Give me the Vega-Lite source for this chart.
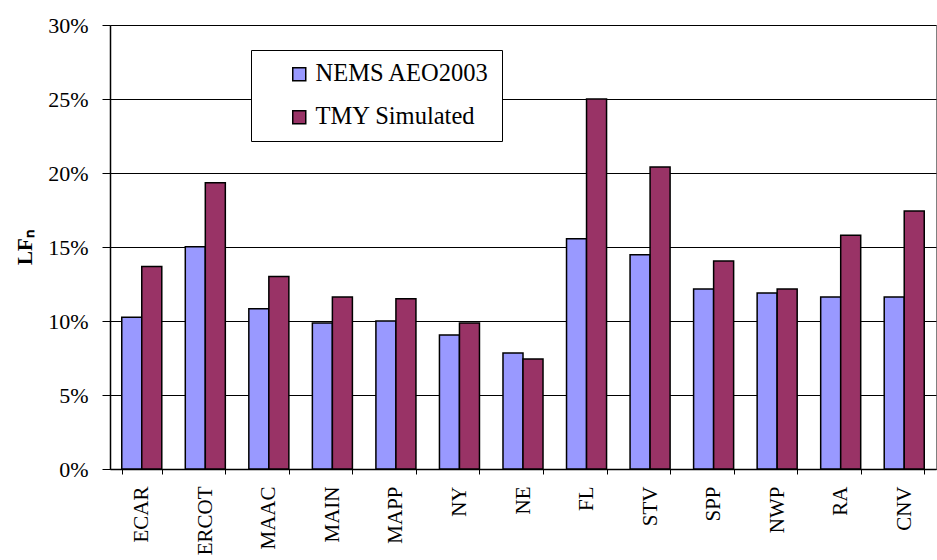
{
  "$schema": "https://vega.github.io/schema/vega-lite/v6.json",
  "width": 826,
  "height": 444,
  "autosize": {"type": "none"},
  "padding": {"left": 110, "top": 25, "right": 1, "bottom": 91},
  "background": "white",
  "config": {
    "view": {"stroke": "#808080", "strokeWidth": 1},
    "font": "Liberation Serif"
  },
  "data": {
    "values": [
      {"region": "ECAR", "series": "NEMS AEO2003", "value": 0.1026},
      {"region": "ECAR", "series": "TMY Simulated", "value": 0.1368},
      {"region": "ERCOT", "series": "NEMS AEO2003", "value": 0.1501},
      {"region": "ERCOT", "series": "TMY Simulated", "value": 0.1934},
      {"region": "MAAC", "series": "NEMS AEO2003", "value": 0.1082},
      {"region": "MAAC", "series": "TMY Simulated", "value": 0.1300},
      {"region": "MAIN", "series": "NEMS AEO2003", "value": 0.0987},
      {"region": "MAIN", "series": "TMY Simulated", "value": 0.1163},
      {"region": "MAPP", "series": "NEMS AEO2003", "value": 0.1000},
      {"region": "MAPP", "series": "TMY Simulated", "value": 0.1150},
      {"region": "NY", "series": "NEMS AEO2003", "value": 0.0906},
      {"region": "NY", "series": "TMY Simulated", "value": 0.0987},
      {"region": "NE", "series": "NEMS AEO2003", "value": 0.0784},
      {"region": "NE", "series": "TMY Simulated", "value": 0.0744},
      {"region": "FL", "series": "NEMS AEO2003", "value": 0.1555},
      {"region": "FL", "series": "TMY Simulated", "value": 0.2500},
      {"region": "STV", "series": "NEMS AEO2003", "value": 0.1447},
      {"region": "STV", "series": "TMY Simulated", "value": 0.2040},
      {"region": "SPP", "series": "NEMS AEO2003", "value": 0.1217},
      {"region": "SPP", "series": "TMY Simulated", "value": 0.1406},
      {"region": "NWP", "series": "NEMS AEO2003", "value": 0.1190},
      {"region": "NWP", "series": "TMY Simulated", "value": 0.1217},
      {"region": "RA", "series": "NEMS AEO2003", "value": 0.1163},
      {"region": "RA", "series": "TMY Simulated", "value": 0.1580},
      {"region": "CNV", "series": "NEMS AEO2003", "value": 0.1163},
      {"region": "CNV", "series": "TMY Simulated", "value": 0.1744}
    ]
  },
  "mark": {"type": "bar", "stroke": "black", "strokeWidth": 1.5},
  "encoding": {
    "x": {
      "field": "region",
      "type": "nominal",
      "sort": null,
      "scale": {"paddingInner": 0.37, "paddingOuter": 0.185},
      "axis": {
        "title": null,
        "labelAngle": -90,
        "labelFont": "Liberation Serif",
        "labelFontSize": 21,
        "labelColor": "black",
        "labelPadding": 12,
        "tickBand": "extent",
        "tickSize": 5,
        "tickColor": "black",
        "domainColor": "black",
        "domainWidth": 1.5,
        "grid": false
      }
    },
    "xOffset": {"field": "series", "type": "nominal", "scale": {"paddingInner": 0, "paddingOuter": 0}},
    "y": {
      "field": "value",
      "type": "quantitative",
      "scale": {"domain": [0, 0.3], "nice": false},
      "axis": {
        "values": [0, 0.05, 0.1, 0.15, 0.2, 0.25, 0.3],
        "format": ".0%",
        "title": "LFₙ",
        "titleFont": "Liberation Serif",
        "titleFontSize": 21,
        "titleFontWeight": "bold",
        "titleColor": "black",
        "titlePadding": 12,
        "labelFont": "Liberation Serif",
        "labelFontSize": 22,
        "labelColor": "black",
        "labelPadding": 14,
        "tickSize": 8,
        "tickColor": "black",
        "domainColor": "black",
        "domainWidth": 1.5,
        "grid": true,
        "gridColor": "black",
        "gridWidth": 1
      }
    },
    "color": {
      "field": "series",
      "type": "nominal",
      "scale": {"domain": ["NEMS AEO2003", "TMY Simulated"], "range": ["#9999FF", "#993366"]},
      "legend": {
        "title": null,
        "orient": "none",
        "legendX": 141,
        "legendY": 25,
        "direction": "vertical",
        "fillColor": "white",
        "strokeColor": "black",
        "padding": 12,
        "symbolType": "square",
        "symbolSize": 169,
        "symbolStrokeColor": "black",
        "symbolStrokeWidth": 1.5,
        "symbolOpacity": 1,
        "symbolOffset": 24,
        "labelFont": "Liberation Serif",
        "labelFontSize": 24.5,
        "labelColor": "black",
        "labelOffset": 4,
        "labelLimit": 300,
        "rowPadding": 18
      }
    }
  }
}
